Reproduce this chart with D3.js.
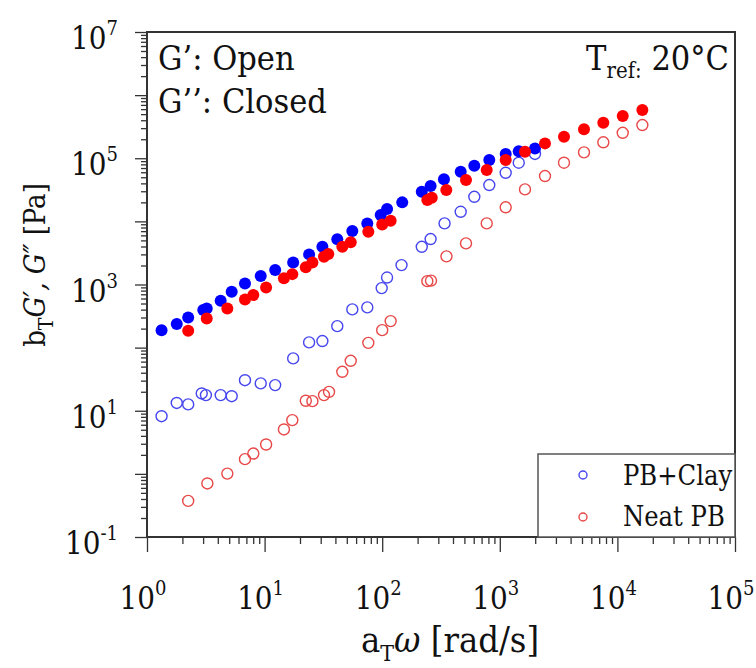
<!DOCTYPE html>
<html>
<head>
<meta charset="utf-8">
<script src="https://cdn.jsdelivr.net/npm/d3@7"></script>
<style>
  body { margin: 0; background: #fff; }
  svg text { fill: #111; font-family: "DejaVu Serif Condensed", "DejaVu Serif", serif; font-stretch: condensed; }
</style>
</head>
<body>
<div id="chart"></div>
<script>
// PB+Clay, storage modulus G' (filled blue)
const clayStorageW = [1.33, 1.79, 2.24, 3.01, 3.22, 4.23, 5.25, 6.81, 9.27, 12.3, 17.5, 23.9, 31.0, 41.5, 55.7, 74.7, 97.1, 110, 148, 217, 258, 335, 465, 607, 814, 1122, 1449, 1991];
const clayStorageG = [189, 236, 301, 393, 418, 552, 766, 1040, 1360, 1690, 2240, 3000, 3960, 5190, 7020, 9290, 12600, 15700, 20000, 29400, 36300, 46300, 61100, 76000, 93600, 117000, 129000, 143000];
// PB+Clay, loss modulus G'' (open blue)
const clayLossW = [1.33, 1.79, 2.24, 2.92, 3.17, 4.23, 5.25, 6.81, 9.27, 12.3, 17.5, 23.9, 31.0, 41.5, 55.7, 74.7, 99, 110, 146, 217, 258, 339, 465, 607, 814, 1122, 1449, 1991];
const clayLossG = [8.2, 13.3, 12.6, 18.8, 17.7, 17.7, 17.0, 30.5, 27.1, 25.5, 67.5, 121, 127, 219, 403, 434, 877, 1290, 2030, 3960, 5250, 9290, 14200, 24500, 37600, 58900, 84900, 117000];
// Neat PB, storage modulus G' (filled red)
const neatStorageW = [2.24, 3.22, 4.82, 6.81, 8.02, 10.3, 14.6, 17.2, 22.4, 25.5, 32.0, 34.8, 45.8, 54.0, 76.2, 100, 118, 242, 264, 351, 516, 774, 1122, 1638, 2423, 3515, 5200, 7590, 11100, 16300];
const neatStorageG = [185, 290, 418, 581, 679, 900, 1260, 1460, 1870, 2240, 2750, 3030, 3960, 4650, 6840, 8960, 10200, 21800, 23700, 31300, 45100, 65000, 93600, 127000, 172000, 219000, 287000, 365000, 467000, 581000];
// Neat PB, loss modulus G'' (open red)
const neatLossW = [2.24, 3.26, 4.82, 6.81, 8.02, 10.3, 14.6, 17.2, 22.4, 25.5, 32.0, 35.3, 45.8, 54.0, 76.2, 100, 118, 242, 260, 352, 516, 774, 1122, 1638, 2423, 3515, 5200, 7590, 11100, 16300];
const neatLossG = [0.373, 0.705, 1.01, 1.71, 2.10, 2.92, 5.06, 7.10, 14.4, 14.2, 17.7, 19.9, 41.4, 61.8, 119, 189, 263, 1130, 1150, 2790, 4480, 9290, 16700, 32100, 52200, 84900, 124000, 179000, 253000, 336000];

const xExponents = [0, 1, 2, 3, 4, 5];
const yExponents = [-1, 1, 3, 5, 7];
const legendNames = ["PB+Clay", "Neat PB"];

const width = 756, height = 668;
const margin = { left: 147, right: 21, top: 32, bottom: 131 };
const innerW = width - margin.left - margin.right;
const innerH = height - margin.top - margin.bottom;

const svg = d3.select("#chart").append("svg")
  .attr("width", width).attr("height", height);

const x = d3.scaleLog().domain([1, 1e5]).range([0, innerW]);
const y = d3.scaleLog().domain([0.1, 1e7]).range([innerH, 0]);

const ChartArea = svg.append("g")
  .attr("transform", `translate(${margin.left},${margin.top})`);

// minor tick values (2..9 in each decade)
function minors(lo, hi) {
  const out = [];
  for (let e = lo; e < hi; e++) {
    for (let k = 2; k <= 9; k++) out.push(k * Math.pow(10, e));
  }
  return out;
}
const xMajor = d3.range(0, 6).map(e => Math.pow(10, e));
const yMajor = d3.range(-1, 8).map(e => Math.pow(10, e));

// x axis ticks
const axisX = ChartArea.append("g").attr("transform", `translate(0,${innerH})`);
axisX.append("g").call(d3.axisBottom(x).tickValues(minors(0, 5)).tickSize(7).tickFormat(""));
axisX.append("g").call(d3.axisBottom(x).tickValues(xMajor).tickSize(15).tickFormat(""));
// y axis ticks
const axisY = ChartArea.append("g");
axisY.append("g").call(d3.axisLeft(y).tickValues(minors(-1, 7)).tickSize(6).tickFormat(""));
axisY.append("g").call(d3.axisLeft(y).tickValues(yMajor).tickSize(12).tickFormat(""));

ChartArea.selectAll(".domain").remove();
ChartArea.selectAll(".tick line").attr("stroke", "#333").attr("stroke-width", 1.3);

// x tick labels
const xl = ChartArea.selectAll(".x_tick_label").data(xExponents).join("text")
  .attr("class", "x_tick_label")
  .attr("x", d => x(Math.pow(10, d)) - 4)
  .attr("y", innerH + 72)
  .attr("text-anchor", "middle")
  .attr("font-size", 31);
xl.append("tspan").text("10");
xl.append("tspan").attr("dy", -14).attr("font-size", 20).text(d => d);

// y tick labels
const yl = ChartArea.selectAll(".y_tick_label").data(yExponents).join("text")
  .attr("class", "y_tick_label")
  .attr("x", -29)
  .attr("y", d => y(Math.pow(10, d)) + 17)
  .attr("text-anchor", "end")
  .attr("font-size", 31);
yl.append("tspan").text("10");
yl.append("tspan").attr("dy", -14).attr("font-size", 20).text(d => d);

// axis titles
const xt = svg.append("text")
  .attr("x", 450).attr("y", 652)
  .attr("text-anchor", "middle")
  .attr("font-size", 36);
xt.append("tspan").text("a");
xt.append("tspan").attr("dy", 9).attr("font-size", 23).text("T");
xt.append("tspan").attr("dy", -9).attr("font-style", "italic").text("ω");
xt.append("tspan").text(" [rad/s]");

const yt = svg.append("text")
  .attr("transform", "translate(45,265) rotate(-90)")
  .attr("text-anchor", "middle")
  .attr("font-size", 29);
yt.append("tspan").text("b");
yt.append("tspan").attr("dy", 8).attr("font-size", 21).text("T");
yt.append("tspan").attr("dy", -8).attr("font-style", "italic").text("G′, G″");
yt.append("tspan").text(" [Pa]");

// series
const series = [
  { w: clayLossW, g: clayLossG, color: "#4646ee", filled: false },
  { w: neatLossW, g: neatLossG, color: "#e84848", filled: false },
  { w: clayStorageW, g: clayStorageG, color: "#0000ff", filled: true },
  { w: neatStorageW, g: neatStorageG, color: "#ff0000", filled: true }
];
series.forEach(s => {
  const pts = s.w.map((w, i) => [w, s.g[i]]);
  ChartArea.append("g").selectAll("circle").data(pts).join("circle")
    .attr("cx", d => x(d[0]))
    .attr("cy", d => y(d[1]))
    .attr("r", s.filled ? 6 : 5.5)
    .attr("fill", s.filled ? s.color : "none")
    .attr("stroke", s.color)
    .attr("stroke-width", s.filled ? 0 : 1.4);
});

// annotations
svg.append("text").attr("x", 158).attr("y", 70).attr("font-size", 34).text("G’: Open");
svg.append("text").attr("x", 158).attr("y", 113).attr("font-size", 34).text("G’’: Closed");
const tref = svg.append("text").attr("x", 729).attr("y", 70)
  .attr("text-anchor", "end").attr("font-size", 34);
tref.append("tspan").text("T");
tref.append("tspan").attr("dy", 8).attr("font-size", 22).text("ref:");
tref.append("tspan").attr("dy", -8).text(" 20°C");

// legend
const legend = svg.append("g");
legend.append("rect")
  .attr("x", 538).attr("y", 454)
  .attr("width", margin.left + innerW - 538).attr("height", margin.top + innerH - 454)
  .attr("fill", "#fff").attr("stroke", "#555").attr("stroke-width", 1.5);
const legendColors = ["#4646ee", "#e84848"];
legendNames.forEach((name, i) => {
  legend.append("circle")
    .attr("cx", 583).attr("cy", 475 + i * 42).attr("r", 4)
    .attr("fill", "none").attr("stroke", legendColors[i]).attr("stroke-width", 1.4);
  legend.append("text")
    .attr("x", 623).attr("y", 485 + i * 41)
    .attr("font-size", 27).text(name);
});

// frame on top
ChartArea.append("rect")
  .attr("width", innerW).attr("height", innerH)
  .attr("fill", "none").attr("stroke", "#333").attr("stroke-width", 2);
</script>
</body>
</html>
